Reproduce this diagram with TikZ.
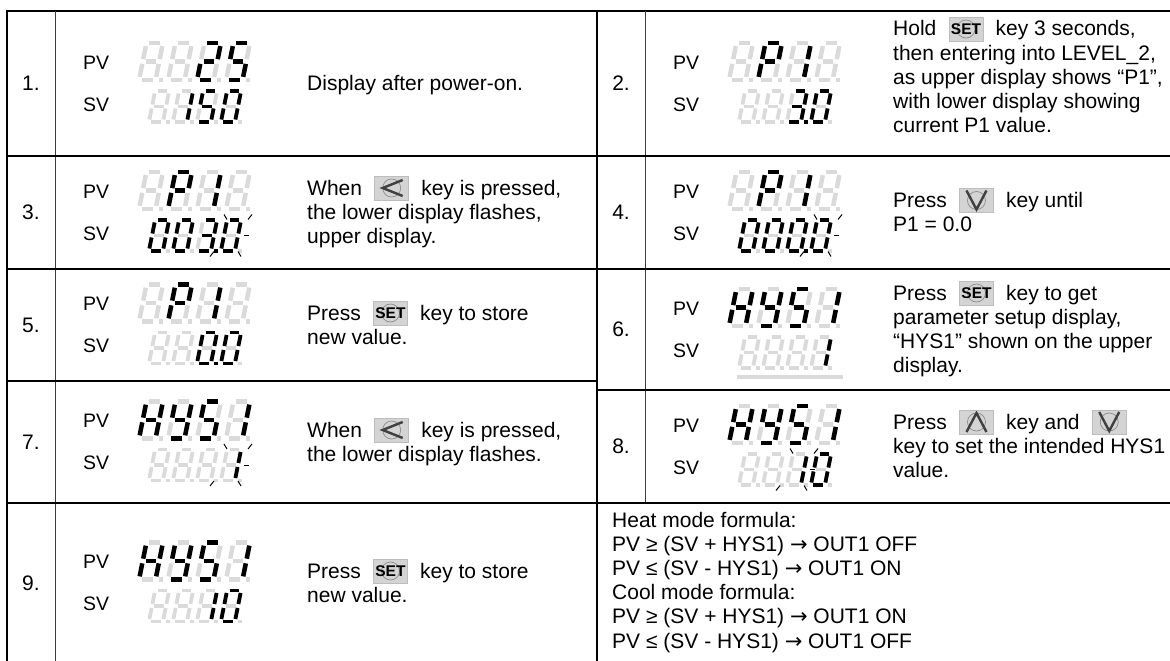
\documentclass[tikz,border=0pt]{standalone}
\usepackage{fontspec}
\setmainfont{Liberation Sans}
\newfontfamily\arrowfont{DejaVu Sans}
\usetikzlibrary{positioning}

\definecolor{lcdgray}{HTML}{DADADA}
\definecolor{keyfill}{HTML}{D4D4D4}
\definecolor{keyedge}{HTML}{BDBDBD}
\definecolor{keyring}{HTML}{8C8C8C}
\definecolor{gridline}{HTML}{3C3C3C}

\newcommand{\desc}{\fontsize{21}{24.2}\selectfont}
\newcommand{\lbl}{\fontsize{19.5}{21}\selectfont}
\newcommand{\setfont}{\fontsize{15.5}{16}\selectfont\bfseries}
\newcommand{\toarrow}{{\arrowfont →}}
\def\lcdblank{n}

\tikzset{
 cellrule/.style={black, line width=1.6pt},
 thinrule/.style={gridline, line width=0.9pt},
 txt/.style={font=\desc, inner sep=0pt, anchor=base west},
 rownum/.style={font=\desc, inner sep=0pt},
 pvsv/.style={font=\lbl, inner sep=0pt, anchor=west},
 segoff/.style={draw=lcdgray, line cap=butt},
 segon/.style={draw=black, line cap=butt},
 flashray/.style={black, line width=1pt},
 chev/.style={black!75, line width=2.4pt, line join=miter},
 keyb/.style={draw=keyedge, fill=keyfill, line width=0.8pt, minimum width=34pt, minimum height=24pt, inner sep=0pt, yshift=7pt},
 keyset/.style={keyb, font=\setfont, path picture={
   \draw[keyring, line width=0.7pt] (path picture bounding box.center) circle (9pt);}},
 keyleft/.style={keyb, path picture={
   \draw[keyring, line width=0.7pt] (path picture bounding box.center) circle (9pt);
   \draw[chev] ([shift={(11pt,8pt)}]path picture bounding box.center) -- ([shift={(-9pt,0pt)}]path picture bounding box.center) -- ([shift={(11pt,-8pt)}]path picture bounding box.center);}},
 keydown/.style={keyb, path picture={
   \draw[keyring, line width=0.7pt] (path picture bounding box.center) circle (9pt);
   \draw[chev] ([shift={(-10pt,10pt)}]path picture bounding box.center) -- ([shift={(0pt,-9pt)}]path picture bounding box.center) -- ([shift={(10pt,10pt)}]path picture bounding box.center);}},
 keyup/.style={keyb, path picture={
   \draw[keyring, line width=0.7pt] (path picture bounding box.center) circle (9pt);
   \draw[chev] ([shift={(-10pt,-10pt)}]path picture bounding box.center) -- ([shift={(0pt,9pt)}]path picture bounding box.center) -- ([shift={(10pt,-10pt)}]path picture bounding box.center);}}
}

\newcommand{\lcddigit}[4]{%
 \begin{scope}[shift={({#1},{#2})}, x=#3pt, y=#3pt, xslant=0.2, line width=3.8pt*#3]
  \foreach \s/\ax/\ay/\bx/\by in {a/-4.6/15.5/4.6/15.5, b/7/13/7/2, c/7/-2/7/-13, d/-4.6/-15.5/4.6/-15.5,
    e/-7/-2/-7/-13, f/-7/13/-7/2, g/-4.6/0/4.6/0, p/9.8/-15.5/13.6/-15.5} {
   \coordinate (seg\s1) at (\ax,\ay);
   \coordinate (seg\s2) at (\bx,\by);
   \draw[segoff] (seg\s1) -- (seg\s2);
  }
  \foreach \s in #4 {\ifx\s\lcdblank\else\draw[segon] (seg\s1) -- (seg\s2);\fi}
 \end{scope}}

\newcommand{\lcd}[5]{%
 \foreach \dg [count=\i] in {#5} {\lcddigit{#1+(\i-1)*#3}{#2}{#4}{\dg}}}

\newcommand{\panel}[5]{%
 \node[pvsv] (#3pv) at ({#1+28},{#2-21}) {PV};
 \node[pvsv] (#3sv) at ({#1+28},{#2+21}) {SV};
 \lcd{#1+96}{#2-22}{29}{1.18}{#4}
 \lcd{#1+104}{#2+23}{24}{1}{#5}}

\newcommand{\lcdflash}[3]{%
 \coordinate (#3) at (#1,#2);
 \draw[flashray] ([shift={(-7,-21)}]#3) -- ++(3,5);
 \draw[flashray] ([shift={(17,-16)}]#3) -- ++(4,-5);
 \draw[flashray] ([shift={(13,0)}]#3) -- ++(5,0);
 \draw[flashray] ([shift={(7,16)}]#3) -- ++(3,5);
 \draw[flashray] ([shift={(-17,16)}]#3) -- ++(-4,5);}

\newcommand{\keyline}[7]{%
 \node[txt] (#1a) at (#2,#3) {#4};
 \node[#5, right=12pt of #1a.base east] (#1k) {#6};
 \node[txt, xshift=12pt] (#1b) at (#1k.east |- #1a.base) {#7};}

\begin{document}
\begin{tikzpicture}[x=1pt, y=-1pt]
\useasboundingbox (0,0) rectangle (1170,661);

\draw[cellrule] (7,661) -- (7,11) -- (1170,11);
\draw[cellrule] (597,11) -- (597,661);
\draw[thinrule] (55,11) -- (55,661);
\draw[thinrule] (645,11) -- (645,503);
\foreach \y in {156,269,503} \draw[cellrule] (7,\y) -- (1170,\y);
\draw[cellrule] (7,381) -- (597,381);
\draw[cellrule] (597,390) -- (1170,390);

\foreach \n/\x/\y in {1/31/83.5, 2/621/83.5, 3/31/212.5, 4/621/212.5, 5/31/325, 6/621/329.5, 7/31/442, 8/621/446.5, 9/31/583}
 \node[rownum] (num\n) at (\x,\y) {\n.};

\panel{55}{83.5}{p1}{{n},{n},{a,b,d,e,g},{a,c,d,f,g}}{{n},{b,c},{a,c,d,f,g},{a,b,c,d,e,f}}
\panel{645}{83.5}{p2}{{n},{a,b,e,f,g},{b,c},{n}}{{n},{n},{a,b,c,d,g,p},{a,b,c,d,e,f}}
\panel{55}{212.5}{p3}{{n},{a,b,e,f,g},{b,c},{n}}{{a,b,c,d,e,f},{a,b,c,d,e,f},{a,b,c,d,g,p},{a,b,c,d,e,f}}
\panel{645}{212.5}{p4}{{n},{a,b,e,f,g},{b,c},{n}}{{a,b,c,d,e,f},{a,b,c,d,e,f},{a,b,c,d,e,f,p},{a,b,c,d,e,f}}
\panel{55}{325}{p5}{{n},{a,b,e,f,g},{b,c},{n}}{{n},{n},{a,b,c,d,e,f,p},{a,b,c,d,e,f}}
\panel{645}{329.5}{p6}{{b,c,e,f,g},{b,c,d,f,g},{a,c,d,f,g},{b,c}}{{n},{n},{n},{b,c}}
\panel{55}{442}{p7}{{b,c,e,f,g},{b,c,d,f,g},{a,c,d,f,g},{b,c}}{{n},{n},{n},{b,c}}
\panel{645}{446.5}{p8}{{b,c,e,f,g},{b,c,d,f,g},{a,c,d,f,g},{b,c}}{{n},{n},{b,c},{a,b,c,d,e,f}}
\panel{55}{583}{p9}{{b,c,e,f,g},{b,c,d,f,g},{a,c,d,f,g},{b,c}}{{n},{n},{b,c},{a,b,c,d,e,f}}

\lcdflash{231}{235.5}{fl3}
\lcdflash{821}{235.5}{fl4}
\lcdflash{231}{465}{fl7}
\lcdflash{797}{469.5}{fl8}
\draw[segoff, line width=3.6pt] (737,377) -- (843,377);

\node[txt] (t1) at (307,90.5) {Display after power-on.};

\keyline{t2}{893}{36}{Hold}{keyset}{SET}{key 3 seconds,}
\foreach \t [count=\i] in {{then entering into LEVEL\_2,},{as upper display shows “P1”,},{with lower display showing},{current P1 value.}}
 \node[txt] (t2l\i) at (893,{36+24.2*\i}) {\t};

\keyline{t3}{307}{195}{When}{keyleft}{}{key is pressed,}
\node[txt] (t3l1) at (307,219.2) {the lower display flashes,};
\node[txt] (t3l2) at (307,243.4) {upper display.};

\keyline{t4}{893}{207.5}{Press}{keydown}{}{key until}
\node[txt] (t4l1) at (893,231.7) {P1 = 0.0};

\keyline{t5}{307}{320}{Press}{keyset}{SET}{key to store}
\node[txt] (t5l1) at (307,344.2) {new value.};

\keyline{t6}{893}{300}{Press}{keyset}{SET}{key to get}
\foreach \t [count=\i] in {{parameter setup display,},{“HYS1” shown on the upper},{display.}}
 \node[txt] (t6l\i) at (893,{300+24.2*\i}) {\t};

\keyline{t7}{307}{437}{When}{keyleft}{}{key is pressed,}
\node[txt] (t7l1) at (307,461.2) {the lower display flashes.};

\keyline{t8}{893}{429}{Press}{keyup}{}{key and}
\node[keydown, right=12pt of t8b.base east] (t8k2) {};
\node[txt] (t8l1) at (893,453.2) {key to set the intended HYS1};
\node[txt] (t8l2) at (893,477.4) {value.};

\keyline{t9}{307}{578}{Press}{keyset}{SET}{key to store}
\node[txt] (t9l1) at (307,602.2) {new value.};

\foreach \t [count=\i from 0] in {{Heat mode formula:},{PV ≥ (SV + HYS1) \toarrow\ OUT1 OFF},{PV ≤ (SV - HYS1) \toarrow\ OUT1 ON},{Cool mode formula:},{PV ≥ (SV + HYS1) \toarrow\ OUT1 ON},{PV ≤ (SV - HYS1) \toarrow\ OUT1 OFF}}
 \node[txt] (fm\i) at (612,{527+24.2*\i}) {\t};
\end{tikzpicture}
\end{document}
